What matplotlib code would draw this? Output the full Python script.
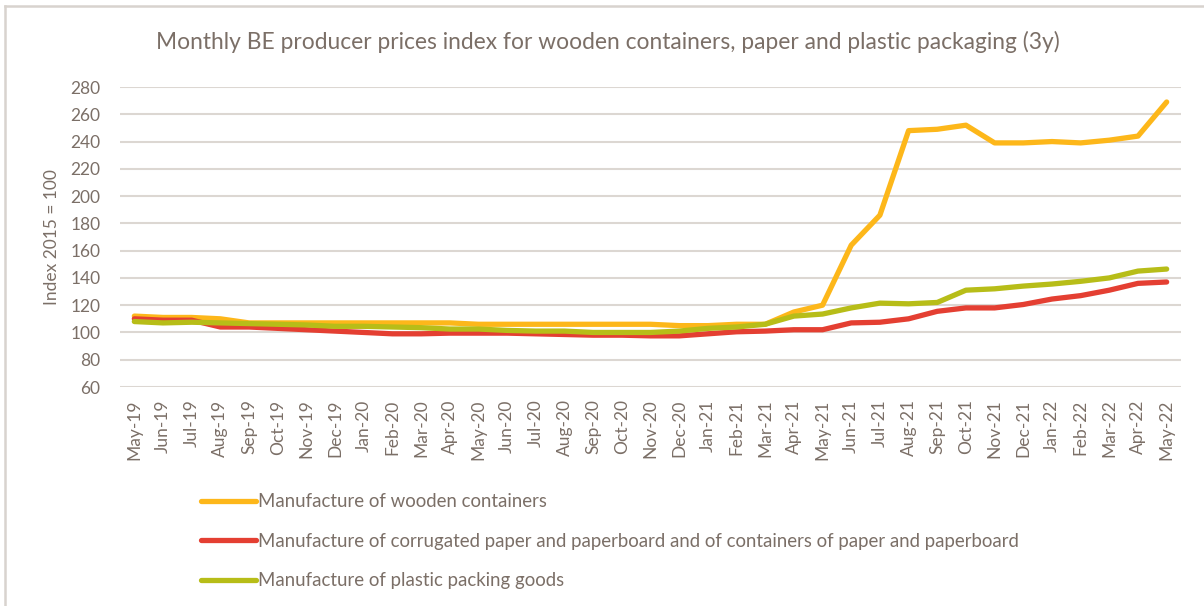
import matplotlib
matplotlib.use('Agg')
import matplotlib.pyplot as plt
from matplotlib.lines import Line2D

plt.rcParams['font.family'] = ['Lato', 'DejaVu Sans']

# 月份标签
months = ['May-19', 'Jun-19', 'Jul-19', 'Aug-19', 'Sep-19', 'Oct-19', 'Nov-19', 'Dec-19',
          'Jan-20', 'Feb-20', 'Mar-20', 'Apr-20', 'May-20', 'Jun-20', 'Jul-20', 'Aug-20',
          'Sep-20', 'Oct-20', 'Nov-20', 'Dec-20', 'Jan-21', 'Feb-21', 'Mar-21', 'Apr-21',
          'May-21', 'Jun-21', 'Jul-21', 'Aug-21', 'Sep-21', 'Oct-21', 'Nov-21', 'Dec-21',
          'Jan-22', 'Feb-22', 'Mar-22', 'Apr-22', 'May-22']

# 三个系列 (index 2015 = 100)
wooden = [112, 111, 111, 110, 107, 107, 107, 107, 107, 107, 107, 107, 106, 106, 106, 106,
          106, 106, 106, 105, 105, 106, 106, 115, 120, 164, 186, 248, 249, 252, 239, 239,
          240, 239, 241, 244, 269]
paper = [110, 109, 109, 104, 104, 103, 102, 101, 100, 99, 99, 99.5, 99.5, 99.5, 99, 98.5,
         98, 98, 97.5, 97.5, 99, 100.5, 101, 102, 102, 107, 107.5, 110, 115.5, 118, 118,
         120.5, 124.5, 127, 131, 136, 137]
plastic = [108, 107, 107.5, 107, 106.5, 106, 105.5, 104.5, 104.5, 104, 103.5, 102.5, 102.5,
           101.5, 101, 101, 100, 100, 100, 101, 103, 104, 106, 112, 113.5, 118, 121.5, 121,
           122, 131, 132, 134, 135.5, 137.5, 140, 145, 146.5]

labels = ['Manufacture of wooden containers',
          'Manufacture of corrugated paper and paperboard and of containers of paper and paperboard',
          'Manufacture of plastic packing goods']
colors = ['#fdb71a', '#e43f32', '#b7bd18']
text_color = '#7b6f67'
grid_color = '#dcd7d2'

fig = plt.figure(figsize=(12.04, 6.06), dpi=100)
ax = fig.add_axes([120 / 1204, 1 - 387 / 606, (1181 - 120) / 1204, 300 / 606])

x = list(range(len(months)))
for series, c in zip([wooden, paper, plastic], colors):
    ax.plot(x, series, color=c, lw=3.8, solid_capstyle='round', solid_joinstyle='round')

ax.set_xlim(-0.5, len(months) - 0.5)
ax.set_ylim(60, 280)
ax.set_yticks(range(60, 281, 20))
ax.set_xticks(x)
ax.set_xticklabels(months, rotation=90)
ax.grid(axis='y', color=grid_color, lw=1.5)
ax.set_axisbelow(True)
for s in ax.spines.values():
    s.set_visible(False)
ax.tick_params(length=0, labelsize=12.5, colors=text_color)
ax.tick_params(axis='y', pad=14)
ax.tick_params(axis='x', pad=9)
for t in ax.get_xticklabels() + ax.get_yticklabels():
    t.set_color(text_color)

fig.text(52 / 1204, 1 - 237 / 606, 'Index 2015 = 100', rotation=90, ha='center', va='center',
         fontsize=12.5, color=text_color)
fig.text(608 / 1204, 1 - 42 / 606,
         'Monthly BE producer prices index for wooden containers, paper and plastic packaging (3y)',
         ha='center', va='center', fontsize=16.4, color=text_color)

# 图例
handles = [Line2D([], [], color=c, lw=3.8, solid_capstyle='round') for c in colors]
leg = fig.legend(handles, labels, loc='upper left', bbox_to_anchor=(194 / 1204, 1 - 486 / 606),
                 frameon=False, fontsize=13.4, handlelength=2.95, handletextpad=0.1,
                 labelspacing=1.2, borderaxespad=0)
for t in leg.get_texts():
    t.set_color(text_color)

# 外框
fig.add_artist(Line2D([5 / 1204, 5 / 1204], [0, 1 - 6 / 606], color='#d8d3ce', lw=1.8))
fig.add_artist(Line2D([5 / 1204, 1], [1 - 6 / 606, 1 - 6 / 606], color='#d8d3ce', lw=1.8))

fig.savefig('out.png', dpi=100)
